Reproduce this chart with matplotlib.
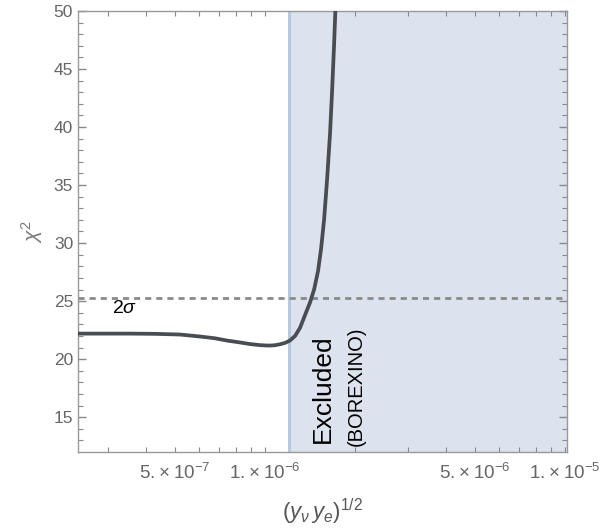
import matplotlib
matplotlib.use("Agg")
import matplotlib.pyplot as plt
from matplotlib.ticker import FixedLocator, NullFormatter

plt.rcParams['font.family'] = ['Liberation Sans', 'DejaVu Sans']
plt.rcParams['mathtext.fontset'] = 'custom'
plt.rcParams['mathtext.rm'] = 'Liberation Sans'
plt.rcParams['mathtext.it'] = 'Liberation Sans:italic'
plt.rcParams['mathtext.bf'] = 'Liberation Sans:bold'

# chi^2 curve
coupling = [2.38e-7, 3.0e-7, 3.55e-7, 4.3e-7, 5.21e-7, 6.07e-7, 6.8e-7, 7.47e-7, 8.2e-7,
            8.91e-7, 9.5e-7, 1.0e-6, 1.04e-6, 1.08e-6, 1.12e-6, 1.166e-6, 1.21e-6, 1.259e-6,
            1.308e-6, 1.359e-6, 1.413e-6, 1.457e-6, 1.502e-6, 1.537e-6, 1.573e-6, 1.61e-6,
            1.647e-6, 1.672e-6, 1.698e-6, 1.718e-6]
chi2 = [22.2, 22.2, 22.2, 22.18, 22.12, 21.95, 21.8, 21.6, 21.45,
        21.3, 21.22, 21.18, 21.17, 21.2, 21.28, 21.4, 21.6, 22.0,
        22.7, 23.8, 24.9, 26.0, 27.6, 29.5, 32.0, 35.5,
        39.5, 43.0, 47.0, 50.5]

two_sigma = 25.3
excluded_from = 1.2e-6
excluded_to = 1.1e-5

x_major = [5e-7, 1e-6, 5e-6, 1e-5]
x_major_labels = ['5.\u2009×\u200910$^{\u2212 7}$', '1.\u2009×\u200910$^{\u2212 6}$',
                  '5.\u2009×\u200910$^{\u2212 6}$', '1.\u2009×\u200910$^{\u2212 5}$']
x_minor = [2e-7, 3e-7, 4e-7, 6e-7, 7e-7, 8e-7, 9e-7, 2e-6, 3e-6, 4e-6, 6e-6, 7e-6, 8e-6, 9e-6]
y_major = [15, 20, 25, 30, 35, 40, 45, 50]

fig = plt.figure(figsize=(6.03, 5.29), dpi=100)
ax = fig.add_axes([0.1294, 0.1456, 0.8109, 0.8336])

ax.axvspan(excluded_from, excluded_to, color='#dce3ef', lw=0, zorder=0)
ax.axvline(excluded_from, color='#b6c8e2', lw=2.2, zorder=1)
ax.axhline(two_sigma, color='#8a8a8a', lw=2.0, ls=(0, (2.2, 1.8)), zorder=2)
ax.plot(coupling, chi2, color='#4a4c54', lw=2.7, zorder=3, solid_capstyle='butt')

ax.set_xscale('log')
ax.set_xlim(2.38e-7, 1.015e-5)
ax.set_ylim(12, 50)

ax.xaxis.set_major_locator(FixedLocator(x_major))
ax.set_xticklabels(x_major_labels)
ax.xaxis.set_minor_locator(FixedLocator(x_minor))
ax.xaxis.set_minor_formatter(NullFormatter())
ax.yaxis.set_major_locator(FixedLocator(y_major))
ax.yaxis.set_minor_locator(FixedLocator(list(range(13, 50))))

gray = '#777777'
for s in ax.spines.values():
    s.set_color('#999999')
    s.set_linewidth(1.0)
ax.tick_params(which='both', direction='in', top=True, right=True, colors='#888888',
               labelcolor='#666666', labelsize=12.5)
ax.tick_params(axis='y', which='major', length=6, width=1)
ax.tick_params(axis='y', which='minor', length=3.5, width=0.8)
ax.tick_params(axis='x', which='both', length=3.5, width=0.8)
ax.tick_params(axis='x', which='major', pad=8, labelsize=13.5)

ax.set_ylabel(r'$\chi^2$', color=gray, fontsize=15, labelpad=6)
ax.set_xlabel(r'$(y_\nu\, y_e)^{1/2}$', color='#555555', fontsize=16, labelpad=10)

ax.text(3.39e-7, 24.4, r'2$\sigma$', fontsize=14, color='black', ha='center', va='center')
ax.text(1.56e-6, 12.8, 'Excluded', rotation=90, fontsize=19, ha='center', va='bottom')
ax.text(2.02e-6, 12.5, '(BOREXINO)', rotation=90, fontsize=14.5, ha='center', va='bottom')

fig.savefig('out.png', dpi=100)
